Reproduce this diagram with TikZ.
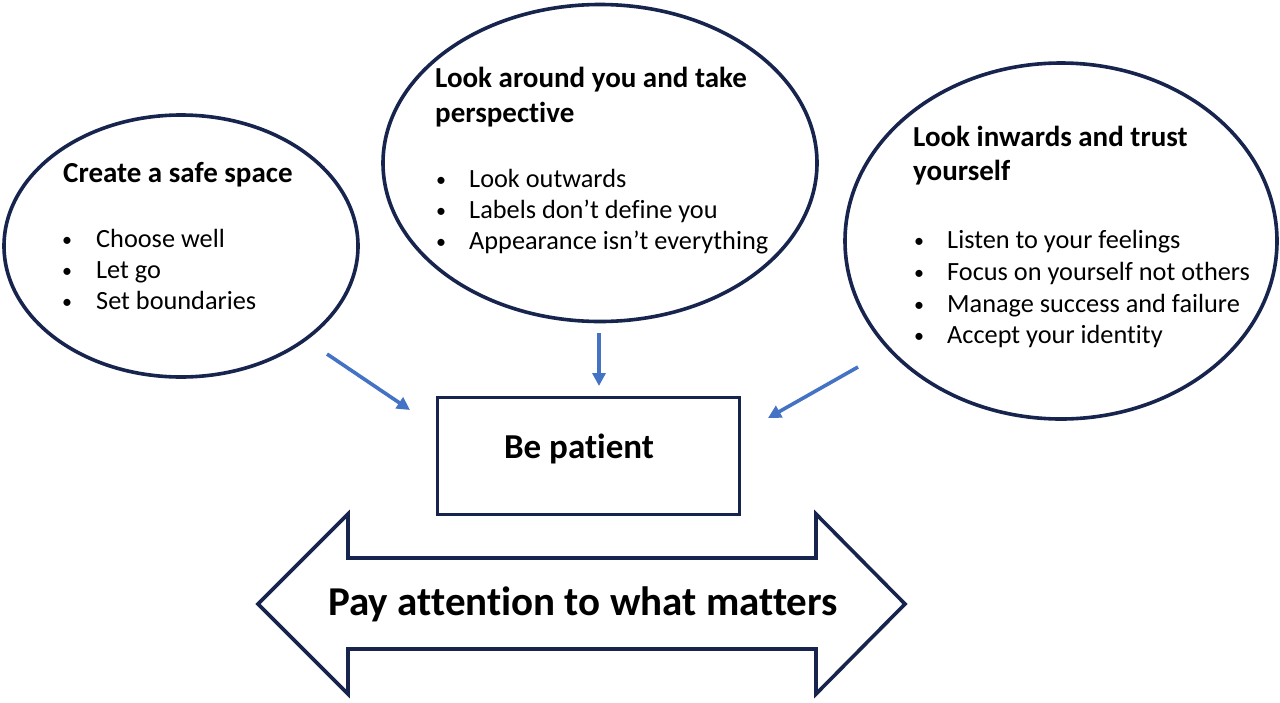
\documentclass[tikz,border=0pt]{standalone}
\usepackage{fontspec}
\setmainfont{Carlito}[RawFeature={-liga}]
\usetikzlibrary{shapes.geometric,arrows.meta}
\definecolor{navy}{RGB}{22,36,78}
\definecolor{arrowblue}{RGB}{68,114,196}
\tikzset{
  bubble/.style={draw=navy, line width=3.6pt, ellipse, inner sep=0pt},
  title/.style={anchor=base west, inner sep=0pt, font=\fontsize{29}{34}\selectfont\bfseries},
  item/.style={anchor=base west, inner sep=0pt, font=\fontsize{26.3}{31}\selectfont},
  bul/.style={anchor=base, inner sep=0pt, font=\fontsize{20}{24}\selectfont},
  link/.style={draw=arrowblue, line width=3.6pt, -{Triangle[length=13pt,width=13pt]}},
  boxstyle/.style={draw=navy, line width=3pt, inner sep=0pt},
  bigarrow/.style={draw=navy, line width=3.6pt, line join=miter, fill=white}
}
\begin{document}
\begin{tikzpicture}[x=1pt,y=-1pt]
\useasboundingbox (0,0) rectangle (1280,702);
\fill[white] (0,0) rectangle (1280,702);

% ellipses
\node[bubble, minimum width=354pt, minimum height=262pt] (e1) at (181,246) {};
\node[bubble, minimum width=434pt, minimum height=317pt] (e2) at (600,163) {};
\node[bubble, minimum width=432pt, minimum height=356pt] (e3) at (1061,241) {};

% left ellipse text
\node[title] (t1) at (63,182) {Create a safe space};
\foreach \y/\t [count=\i] in {247/Choose well, 278/Let go, 309/Set boundaries}{
  \node[bul] (b1\i) at (67,\y-1) {•};
  \node[item] (i1\i) at (96,\y) {\t};
}

% middle ellipse text
\node[title] (t2a) at (435,87) {Look around you and take};
\node[title] (t2b) at (435,122) {perspective};
\foreach \y/\t [count=\i] in {187/Look outwards, 218/Labels don’t define you, 249/Appearance isn’t everything}{
  \node[bul] (b2\i) at (441,\y-1) {•};
  \node[item] (i2\i) at (469,\y) {\t};
}

% right ellipse text
\node[title] (t3a) at (913,146) {Look inwards and trust};
\node[title] (t3b) at (913,180) {yourself};
\foreach \y/\t [count=\i] in {248/Listen to your feelings, 280/Focus on yourself not others, 312/Manage success and failure, 343/Accept your identity}{
  \node[bul] (b3\i) at (919,\y-1) {•};
  \node[item] (i3\i) at (947,\y) {\t};
}

% centre box
\node[boxstyle, minimum width=302pt, minimum height=117pt] (box) at (588,455.5) {};
\node[anchor=base, inner sep=0pt, font=\fontsize{35}{40}\selectfont\bfseries] (bp) at (579,458) {Be patient};

% arrows
\coordinate (a1s) at (327,354);
\coordinate (a1e) at (410,410);
\coordinate (a2s) at (599,333);
\coordinate (a2e) at (599,386);
\coordinate (a3s) at (858,367);
\coordinate (a3e) at (768,418);
\draw[link] (a1s) -- (a1e);
\draw[link] (a2s) -- (a2e);
\draw[link] (a3s) -- (a3e);

% big double arrow
\draw[bigarrow] (258,604) -- (348,514) -- (348,558) -- (816,558) -- (816,514) -- (905,604)
  -- (816,694) -- (816,649) -- (348,649) -- (348,694) -- cycle;
\node[anchor=base, inner sep=0pt, font=\fontsize{41}{47}\selectfont\bfseries] (pay) at (583,615) {Pay attention to what matters};
\end{tikzpicture}
\end{document}
